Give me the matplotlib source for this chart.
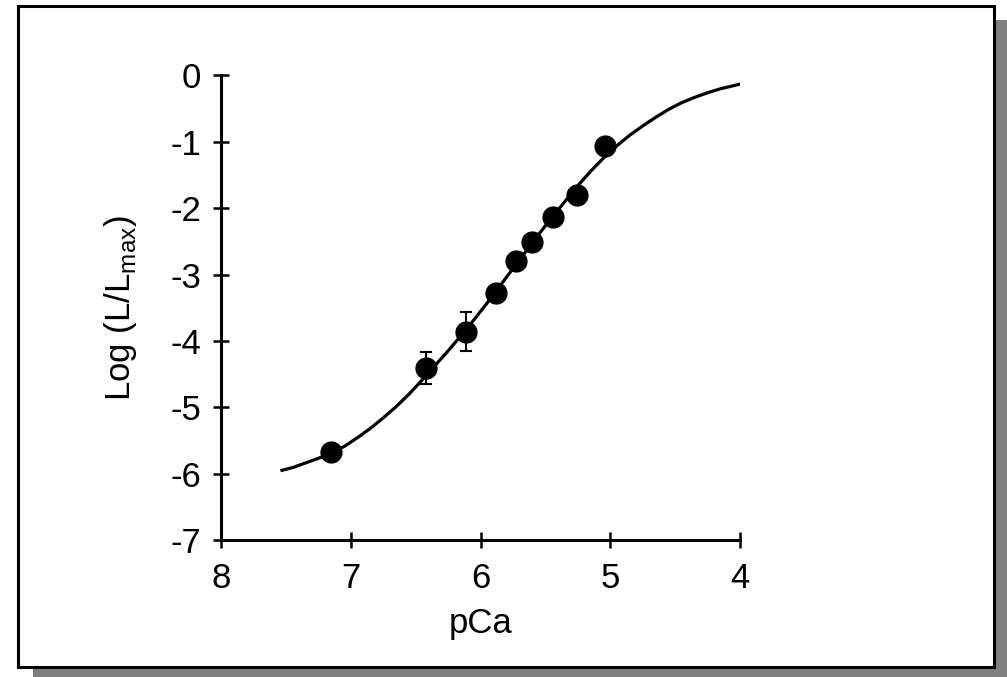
import matplotlib
matplotlib.use("Agg")
import matplotlib.pyplot as plt
from matplotlib.patches import Rectangle

plt.rcParams['font.family'] = ['Liberation Sans', 'DejaVu Sans']

# measured points
pca = [7.15, 6.42, 6.11, 5.88, 5.73, 5.60, 5.44, 5.26, 5.04]
log_l = [-5.67, -4.41, -3.86, -3.28, -2.80, -2.51, -2.13, -1.80, -1.07]
err = [0, 0.245, 0.29, 0, 0, 0, 0, 0, 0]

# fitted curve
curve_pca = [7.53, 7.45, 7.35, 7.25, 7.15, 7.05, 6.95, 6.85, 6.75, 6.65,
             6.55, 6.45, 6.35, 6.25, 6.15, 6.05, 5.95, 5.85, 5.75, 5.65,
             5.55, 5.45, 5.35, 5.25, 5.15, 5.05, 4.95, 4.85, 4.75, 4.65,
             4.55, 4.45, 4.35, 4.25, 4.15, 4.0]
curve_log = [-5.95, -5.91, -5.84, -5.77, -5.69, -5.59, -5.46, -5.32, -5.16, -4.99,
             -4.80, -4.59, -4.37, -4.15, -3.92, -3.68, -3.43, -3.17, -2.91, -2.65,
             -2.39, -2.14, -1.90, -1.66, -1.44, -1.24, -1.06, -0.90, -0.76, -0.63,
             -0.51, -0.41, -0.33, -0.26, -0.20, -0.13]

xticks = [8, 7, 6, 5, 4]
yticks = [0, -1, -2, -3, -4, -5, -6, -7]

fig = plt.figure(figsize=(10.07, 6.77), dpi=100)

# framed panel with drop shadow (behind the axes)
fig.patches.append(Rectangle((0.0328, -0.05), 1.0, 0.9705 + 0.05, transform=fig.transFigure,
                             facecolor='#808080', edgecolor='none', zorder=-3))
fig.patches.append(Rectangle((0.0179, 0.0148), 0.9692, 0.9763, transform=fig.transFigure,
                             facecolor='white', edgecolor='black', linewidth=2.2, zorder=-2))

ax = fig.add_axes([0.2195, 0.2024, 0.5154, 0.6861])
ax.patch.set_visible(False)

ax.plot(curve_pca, curve_log, color='black', lw=2.3, solid_joinstyle='round')
ax.errorbar(pca, log_l, yerr=err, fmt='o', color='black', ms=15,
            ecolor='black', elinewidth=1.5, capsize=4.5, capthick=1.5)

ax.set_xlim(8, 4)
ax.set_ylim(-7, 0)
ax.set_xticks(xticks)
ax.set_yticks(yticks)
ax.set_xticklabels([str(t) for t in xticks])
ax.set_yticklabels([str(t) for t in yticks])

for s in ['top', 'right']:
    ax.spines[s].set_visible(False)
for s in ['left', 'bottom']:
    ax.spines[s].set_linewidth(2.2)

ax.tick_params(direction='inout', length=11, width=1.8, labelsize=25)
ax.tick_params(axis='x', pad=10)
ax.tick_params(axis='y', pad=9)
ax.set_xlabel('pCa', fontsize=25, labelpad=9)
ax.set_ylabel('Log (L/L$_{\\mathregular{max}}$)', fontsize=25, labelpad=22)

fig.savefig('out.png', dpi=100)
